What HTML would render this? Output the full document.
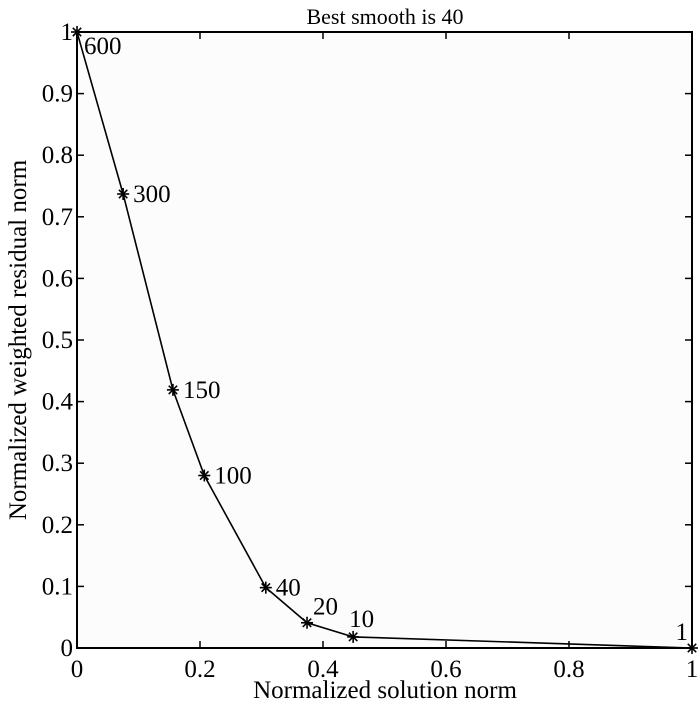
<!DOCTYPE html>
<html><head><meta charset="utf-8"><style>
html,body{margin:0;padding:0;background:#fff;}
svg{display:block;font-family:"Liberation Serif",serif;}
</style></head><body>
<svg id="chart" width="700" height="708" viewBox="0 0 700 708" xmlns="http://www.w3.org/2000/svg">
<rect x="77" y="32" width="615" height="616" fill="#fcfcfc" stroke="none"/>
<g id="ticks"></g>
<g id="series"></g>
<rect x="77" y="32" width="615" height="616" fill="none" stroke="#000" stroke-width="2"/>
<text x="385" y="24" font-size="22" text-anchor="middle">Best smooth is 40</text>
<text x="385" y="698" font-size="25" text-anchor="middle">Normalized solution norm</text>
<text transform="translate(26,340) rotate(-90)" font-size="25" text-anchor="middle">Normalized weighted residual norm</text>
</svg>
<script>
const xVals=[0,0.075,0.156,0.207,0.307,0.374,0.449,1];
const yVals=[1,0.737,0.419,0.28,0.098,0.041,0.018,0];
const pointLabels=["600","300","150","100","40","20","10","1"];
const xTicks=[0,0.2,0.4,0.6,0.8,1];
const xTickLabels=["0","0.2","0.4","0.6","0.8","1"];
const yTicks=[0,0.1,0.2,0.3,0.4,0.5,0.6,0.7,0.8,0.9,1];
const yTickLabels=["0","0.1","0.2","0.3","0.4","0.5","0.6","0.7","0.8","0.9","1"];
const X0=77,X1=692,Y0=648,Y1=32;
const sx=v=>X0+v*(X1-X0);
const sy=v=>Y0-v*(Y0-Y1);
const NS="http://www.w3.org/2000/svg";
function mk(t,a,p){const e=document.createElementNS(NS,t);for(const k in a)e.setAttribute(k,a[k]);p.appendChild(e);return e;}
const tg=document.getElementById('ticks');
xTicks.forEach((v,i)=>{
  const x=sx(v);
  const t1=mk('line',{x1:x,y1:Y0,x2:x,y2:Y0-7,stroke:'#000','stroke-width':1.5},tg);
  
  
  const t2=mk('line',{x1:x,y1:Y1,x2:x,y2:Y1+7,stroke:'#000','stroke-width':1.5},tg);
  
  
  const l=mk('text',{x:x,y:Y0+29,'font-size':25,'text-anchor':'middle'},tg);
  l.textContent=xTickLabels[i];
  
  
});
yTicks.forEach((v,i)=>{
  const y=sy(v);
  const t1=mk('line',{x1:X0,y1:y,x2:X0+7,y2:y,stroke:'#000','stroke-width':1.5},tg);
  
  
  const t2=mk('line',{x1:X1,y1:y,x2:X1-7,y2:y,stroke:'#000','stroke-width':1.5},tg);
  
  
  const l=mk('text',{x:X0-4,y:y+8,'font-size':25,'text-anchor':'end'},tg);
  l.textContent=yTickLabels[i];
  
  
});
const sg=document.getElementById('series');
const line=mk('polyline',{points:xVals.map((v,i)=>sx(v)+','+sy(yVals[i])).join(' '),fill:'none',stroke:'#000','stroke-width':1.6},sg);


xVals.forEach((v,i)=>{
  const x=sx(v),y=sy(yVals[i]);
  const g=mk('g',{},sg);
  
  
  const r=6;
  [[r,0],[0,r],[r*0.7,r*0.7],[r*0.7,-r*0.7]].forEach(d=>{
    mk('line',{x1:x-d[0],y1:y-d[1],x2:x+d[0],y2:y+d[1],stroke:'#000','stroke-width':1.6},g);
  });
  let lx=x+10,ly=y+8,anchor='start';
  if(i===0){lx=x+7;ly=y+22;}
  else if(i===5){lx=x+6;ly=y-8;}
  else if(i===6){lx=x-4;ly=y-10;}
  else if(i===7){lx=x-4;ly=y-8;anchor='end';}
  const t=mk('text',{x:lx,y:ly,'font-size':25,'text-anchor':anchor},sg);
  t.textContent=pointLabels[i];
  
  
});
</script>
</body></html>
